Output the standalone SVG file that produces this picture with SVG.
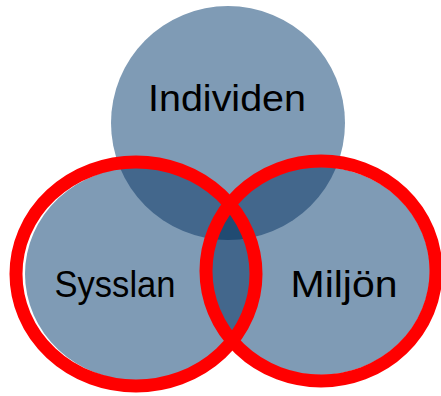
<svg xmlns="http://www.w3.org/2000/svg" width="441" height="396" viewBox="0 0 441 396">
  <style>
    .light { fill: #7F9BB5; }
    .dark { fill: #43678C; }
    .darkest { fill: #214B72; }
    .ring { fill: none; stroke: #FF0000; stroke-width: 13; }
    .label { font-family: "Liberation Sans", Arial, sans-serif; font-size: 37px; fill: #000000; text-anchor: middle; }
  </style>
  <defs>
    <clipPath id="clipTop"><circle cx="228" cy="123" r="117"/></clipPath>
    <clipPath id="clipLeft"><ellipse cx="139" cy="274" rx="114" ry="107"/></clipPath>
    <clipPath id="clipRight"><ellipse cx="320" cy="271" rx="110" ry="104"/></clipPath>
  </defs>
  <g id="circles">
    <g id="individen-circle"><circle class="light" cx="228" cy="123" r="117"/></g>
    <g id="sysslan-circle"><ellipse class="light" cx="139" cy="274" rx="114" ry="107"/></g>
    <g id="miljon-circle"><ellipse class="light" cx="320" cy="271" rx="110" ry="104"/></g>
    <g id="overlaps">
      <g clip-path="url(#clipTop)">
        <ellipse class="dark" cx="139" cy="274" rx="114" ry="107"/>
        <ellipse class="dark" cx="320" cy="271" rx="110" ry="104"/>
      </g>
      <g clip-path="url(#clipLeft)">
        <ellipse class="dark" cx="320" cy="271" rx="110" ry="104"/>
      </g>
      <g clip-path="url(#clipTop)">
        <g clip-path="url(#clipLeft)">
          <ellipse class="darkest" cx="320" cy="271" rx="110" ry="104"/>
        </g>
      </g>
    </g>
  </g>
  <g id="rings">
    <ellipse class="ring" cx="136" cy="274" rx="120" ry="112"/>
    <ellipse class="ring" cx="321" cy="271" rx="115" ry="110"/>
  </g>
  <g id="individen"><text class="label" x="227" y="111" textLength="158" lengthAdjust="spacingAndGlyphs">Individen</text></g>
  <g id="sysslan"><text class="label" x="115" y="297" textLength="121" lengthAdjust="spacingAndGlyphs">Sysslan</text></g>
  <g id="miljon"><text class="label" x="344" y="297" textLength="107" lengthAdjust="spacingAndGlyphs">Miljön</text></g>
</svg>
